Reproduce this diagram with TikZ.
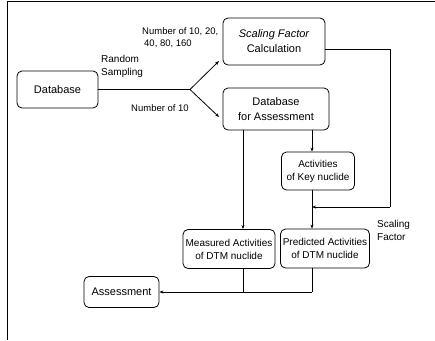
\documentclass[tikz,border=0pt]{standalone}
\usepackage{fontspec}
\setmainfont{Liberation Sans}
\usetikzlibrary{arrows.meta}
\tikzset{
  box/.style={draw, line width=0.8pt, rounded corners=5pt, align=center, inner sep=1pt, font=\fontsize{10}{13}\selectfont},
  bigbox/.style={box, font=\fontsize{11}{15}\selectfont},
  conn/.style={line width=0.8pt},
  arr/.style={conn, -{Stealth[length=4pt,width=3pt]}},
  lbl/.style={inner sep=0pt, align=left, font=\fontsize{10}{13}\selectfont},
  numlbl/.style={lbl, font=\fontsize{9.5}{12}\selectfont}
}
\begin{document}
\begin{tikzpicture}[x=1pt,y=-1pt]
\useasboundingbox (0,0) rectangle (435,340);
% frame
\coordinate (fa) at (7,340);
\coordinate (fb) at (7,1.5);
\coordinate (fc) at (435,1.5);
\draw[line width=0.8pt] (fa) -- (fb) -- (fc);

% boxes
\node[bigbox, minimum width=81pt, minimum height=37pt] (db) at (57.5,89.5) {Database};
\node[bigbox, minimum width=102pt, minimum height=47pt] (sfc) at (274,41.5) {\itshape Scaling Factor\\Calculation};
\node[bigbox, minimum width=106pt, minimum height=42pt] (dfa) at (276,109) {Database\\for Assessment};
\node[box, minimum width=73pt, minimum height=38pt] (key) at (318,171) {Activities\\of Key nuclide};
\node[box, minimum width=92pt, minimum height=39pt] (meas) at (229,249) {Measured Activities\\of DTM nuclide};
\node[box, minimum width=89pt, minimum height=39pt] (pred) at (325,248.5) {Predicted Activities\\of DTM nuclide};
\node[bigbox, minimum width=75pt, minimum height=31pt] (assess) at (121.5,292) {Assessment};

% helper coordinates
\coordinate (br) at (190,89.5);
\coordinate (t1) at (219,61);
\coordinate (t2) at (219,117);
\coordinate (v312) at (312,0);
\coordinate (v243) at (243,0);
\coordinate (h49) at (0,49);
\coordinate (rc) at (390,49);
\coordinate (rd) at (390,207);
\coordinate (jn) at (312,207);
\coordinate (m1) at (243,292);
\coordinate (p1) at (312,292);

% connectors
\draw[conn] (db.east |- br) -- (br);
\draw[arr] (br) -- (t1);
\draw[arr] (br) -- (t2);
\draw[conn] (sfc.east |- h49) -- (rc) -- (rd);
\draw[arr] (rd) -- (jn);
\draw[arr] (dfa.south -| v312) -- (key.north -| v312);
\draw[arr] (key.south -| v312) -- (pred.north -| v312);
\draw[arr] (dfa.south -| v243) -- (meas.north -| v243);
\draw[conn] (meas.south -| v243) -- (m1);
\draw[conn] (pred.south -| v312) -- (p1);
\draw[arr] (p1) -- (assess.east |- p1);

% labels
\node[lbl, anchor=north west] (rs) at (101,55) {Random\\Sampling};
\node[numlbl, anchor=north west] (n1) at (142,27) {Number of 10, 20,\\\hspace{2pt}40, 80, 160};
\node[numlbl] (n2) at (160,108) {Number of 10};
\node[lbl, anchor=north west] (sf) at (377,220) {Scaling\\Factor};
\end{tikzpicture}
\end{document}
